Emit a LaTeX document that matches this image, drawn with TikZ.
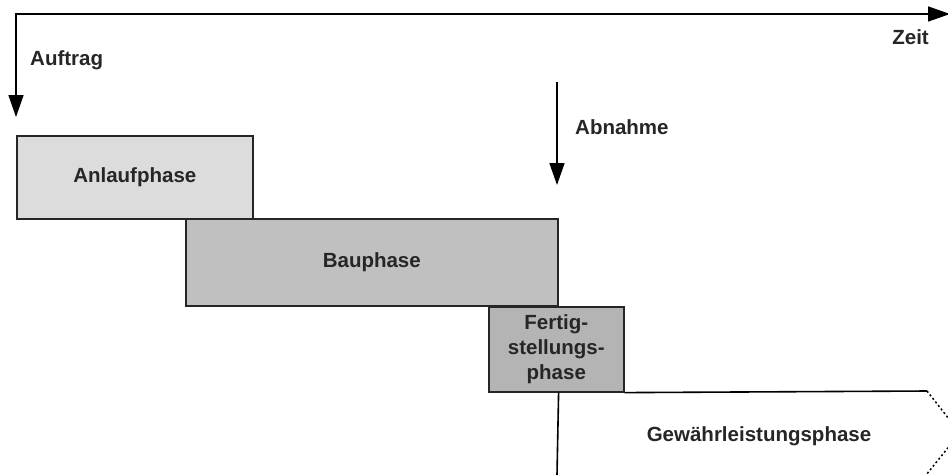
\documentclass[tikz,border=0pt]{standalone}
\usepackage{fontspec}
\setmainfont{Liberation Sans}
\usetikzlibrary{arrows.meta}
\definecolor{anlgray}{HTML}{DCDCDC}
\definecolor{baugray}{HTML}{C0C0C0}
\definecolor{fertgray}{HTML}{B4B4B4}
\begin{document}
\begin{tikzpicture}[x=1pt,y=-1pt,
  lbl/.style={font=\fontsize{20.5}{25}\selectfont\bfseries, text=black!85, inner sep=0pt},
  phasebox/.style={draw=black!85, line width=1.6pt, anchor=north west, inner sep=0pt,
    font=\fontsize{20.5}{25}\selectfont\bfseries, text=black!85, align=center},
  conn/.style={draw=black, line width=1.6pt},
  tip/.style={-{Triangle[length=22pt,width=15pt]}},
  dotline/.style={draw=black, line width=1.5pt, dash pattern=on 2pt off 2.5pt}
]
\useasboundingbox (0,0) rectangle (948,475);
\begin{scope}
\clip (0,0) rectangle (948,475);
% boxes
\node[phasebox, fill=anlgray, minimum width=236pt, minimum height=83pt] (anl) at (16,135) {Anlaufphase};
\node[phasebox, fill=baugray, minimum width=372pt, minimum height=87pt] (bau) at (185,218) {Bauphase};
\node[phasebox, fill=fertgray, minimum width=135pt, minimum height=85pt] (fert) at (488,306) {Fertig-\\stellungs-\\phase};
% labels
\node[lbl, anchor=west] (auftrag) at (30,60) {Auftrag};
\node[lbl, anchor=east] (zeit) at (929,37) {Zeit};
\node[lbl, anchor=west] (abnahme) at (575,127) {Abnahme};
\node[lbl] (gew) at (759,436) {Gewährleistungsphase};
% coordinates
\coordinate (auftragtip) at (16,117);
\coordinate (zeittip) at (950,14);
\coordinate (abnstart) at (557,82);
\coordinate (abntip) at (557,185);
\coordinate (gewbottom) at (557,475);
\coordinate (gewtopend) at (927,391);
\coordinate (gewtip) at (960,433);
\coordinate (gewbotend) at (926,475);
% connectors
\draw[conn, {Triangle[length=22pt,width=15pt]}-{Triangle[length=22pt,width=15pt]}] (auftragtip) |- (zeittip);
\draw[conn, tip] (abnstart) -- (abntip);
\draw[conn] (fert.south -| bau.south east) -- (gewbottom);
\draw[conn] (fert.south east) -- (gewtopend);
\draw[dotline] (gewtopend) -- (gewtip) -- (gewbotend);
\end{scope}
\end{tikzpicture}
\end{document}
